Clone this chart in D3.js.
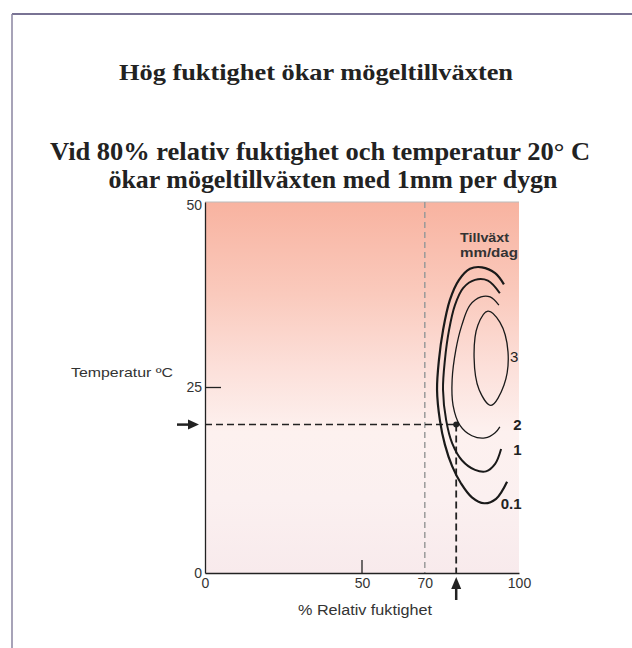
<!DOCTYPE html>
<html><head><meta charset="utf-8">
<script src="https://cdn.jsdelivr.net/npm/d3@7"></script>
<style>
html,body{margin:0;padding:0;background:#fff;}
svg{display:block;}
</style></head>
<body>
<script>
// ---- data ----
const titleText = "Hög fuktighet ökar mögeltillväxten";
const subtitleLines = ["Vid 80% relativ fuktighet och temperatur 20° C", "ökar mögeltillväxten med 1mm per dygn"];
const xTicks = [0, 50, 70, 100];
const yTicks = [0, 25, 50];
const xLabel = "% Relativ fuktighet";
const yLabel = "Temperatur ºC";
const legendTitle = ["Tillväxt", "mm/dag"];
const refRH = 80;      // % relative humidity
const refTemp = 20;    // °C
const thresholdRH = 70;
// growth contours (RH %, temperature °C)
const contour01 = [[95.2,38.9],[92.4,40.4],[88.2,41.2],[84.4,41.0],[80.9,39.5],[78.0,36.8],[75.8,32.7],[74.5,28.7],[73.9,24.7],[74.8,20.6],[76.4,17.3],[78.7,14.4],[81.5,12.1],[85.0,10.2],[88.9,9.4],[92.7,10.0],[96.2,12.3]];
const contour1 = [[93.9,37.7],[90.1,39.4],[86.0,39.5],[82.2,38.4],[79.6,36.1],[77.7,32.7],[76.4,28.7],[75.8,24.7],[76.8,20.6],[78.7,17.5],[81.8,15.2],[86.0,13.9],[89.5,13.7],[92.4,14.7],[94.3,16.7]];
const contour2 = [[93.6,36.1],[90.8,37.2],[87.9,37.2],[84.4,36.1],[81.8,33.4],[79.9,30.1],[78.7,26.0],[79.0,22.6],[81.2,19.9],[85.0,18.5],[89.2,18.2],[92.4,18.9],[93.9,19.7]];
const contour3 = [[90.1,35.3],[93.9,33.8],[96.5,29.8],[95.2,25.3],[91.1,22.6],[87.3,24.7],[85.7,29.0],[86.9,33.4]];
const contourLabels = ["0.1", "1", "2", "3"];
const contourLabelPos = [[97.5,9.4],[99.5,16.6],[99.5,20.0],[98.5,29.2]];

// ---- drawing ----
const W = 632, H = 648;
const svg = d3.select("body").append("svg").attr("width", W).attr("height", H);

// page frame
svg.append("line").attr("x1", 12).attr("y1", 14).attr("x2", 632).attr("y2", 14)
  .attr("stroke", "#4d4470").attr("stroke-width", 1.5);
svg.append("line").attr("x1", 12).attr("y1", 14).attr("x2", 12).attr("y2", 648)
  .attr("stroke", "#8a84a0").attr("stroke-width", 1.5);

// titles
const serif = "'Liberation Serif','Times New Roman',serif";
svg.append("text").attr("x", 316).attr("y", 80).attr("text-anchor", "middle")
  .attr("font-family", serif).attr("font-weight", "bold").attr("font-size", 24)
  .attr("fill", "#222").attr("textLength", 394).attr("lengthAdjust", "spacingAndGlyphs")
  .text(titleText);
const subX = [320, 333], subY = [160, 188], subLen = [540, 449];
subtitleLines.forEach((t, i) => {
  svg.append("text").attr("x", subX[i]).attr("y", subY[i]).attr("text-anchor", "middle")
    .attr("font-family", serif).attr("font-weight", "bold").attr("font-size", 25)
    .attr("fill", "#222").attr("textLength", subLen[i]).attr("lengthAdjust", "spacingAndGlyphs")
    .text(t);
});

const x = d3.scaleLinear().domain([0, 100]).range([205, 519]);
const y = d3.scaleLinear().domain([0, 50]).range([573, 202]);

// background gradient
const defs = svg.append("defs");
const grad = defs.append("linearGradient").attr("id", "bg").attr("x1", 0).attr("y1", 0).attr("x2", 0).attr("y2", 1);
[[0, "#f8b3a0"], [0.25, "#facabd"], [0.45, "#fce0da"], [0.62, "#fdf1ef"], [0.8, "#fbf0f0"], [1, "#f8eaec"]]
  .forEach(s => grad.append("stop").attr("offset", s[0]).attr("stop-color", s[1]));
svg.append("rect").attr("x", x(0)).attr("y", y(50)).attr("width", x(100) - x(0)).attr("height", y(0) - y(50))
  .attr("fill", "url(#bg)");
// faint top border
svg.append("line").attr("x1", x(0)).attr("x2", x(100)).attr("y1", y(50)).attr("y2", y(50))
  .attr("stroke", "#bbb").attr("stroke-width", 1);

// threshold dashed line at 70%
svg.append("line").attr("x1", x(thresholdRH)).attr("x2", x(thresholdRH)).attr("y1", y(50)).attr("y2", y(0))
  .attr("stroke", "#9a9a9a").attr("stroke-width", 1.5).attr("stroke-dasharray", "6,4");

// reference dashed lines
svg.append("line").attr("x1", x(0)).attr("x2", x(refRH)).attr("y1", y(refTemp)).attr("y2", y(refTemp))
  .attr("stroke", "#222").attr("stroke-width", 1.5).attr("stroke-dasharray", "7,4");
svg.append("line").attr("x1", x(refRH)).attr("x2", x(refRH)).attr("y1", y(refTemp)).attr("y2", y(0))
  .attr("stroke", "#222").attr("stroke-width", 1.8).attr("stroke-dasharray", "7,4");
svg.append("circle").attr("cx", x(refRH)).attr("cy", y(refTemp)).attr("r", 3).attr("fill", "#222");

// contours
const line = d3.line().x(d => x(d[0])).y(d => y(d[1])).curve(d3.curveCatmullRom.alpha(0.5));
const lineClosed = d3.line().x(d => x(d[0])).y(d => y(d[1])).curve(d3.curveCatmullRomClosed.alpha(0.5));
const contours = [contour01, contour1, contour2];
const widths = [2.2, 2.0, 1.3];
contours.forEach((c, i) => {
  svg.append("path").attr("d", line(c)).attr("fill", "none").attr("stroke", "#1a1a1a").attr("stroke-width", widths[i]);
});
svg.append("path").attr("d", lineClosed(contour3)).attr("fill", "none").attr("stroke", "#1a1a1a").attr("stroke-width", 1.3);

const sans = "Arial,'Liberation Sans',sans-serif";
contourLabels.forEach((t, i) => {
  svg.append("text").attr("x", x(contourLabelPos[i][0])).attr("y", y(contourLabelPos[i][1]))
    .attr("text-anchor", "middle").attr("dominant-baseline", "central")
    .attr("font-family", sans).attr("font-size", 15).attr("font-weight", i === 3 ? "normal" : "bold")
    .attr("fill", "#222").text(t);
});
const legLen = [49, 58];
legendTitle.forEach((t, i) => {
  svg.append("text").attr("x", 460).attr("y", 242 + i * 15)
    .attr("font-family", sans).attr("font-size", 13).attr("font-weight", "bold")
    .attr("fill", "#333").attr("textLength", legLen[i]).attr("lengthAdjust", "spacingAndGlyphs").text(t);
});

// axes
const xAxis = svg.append("g").attr("transform", `translate(0,${y(0)})`)
  .call(d3.axisBottom(x).tickValues(xTicks).tickSize(0).tickPadding(5).tickFormat(d3.format("d")));
const yAxis = svg.append("g").attr("transform", `translate(${x(0)},0)`)
  .call(d3.axisLeft(y).tickValues(yTicks).tickSize(0).tickPadding(3).tickFormat(d3.format("d")));
[xAxis, yAxis].forEach(g => {
  g.select(".domain").attr("stroke", "#222").attr("stroke-width", 1.3);
  g.selectAll("text").attr("font-family", sans).attr("font-size", 14).attr("fill", "#333");
});
// nudge the top y label slightly down, clear of the subtitle
yAxis.selectAll(".tick").filter(d => d === 50).select("text").attr("dy", "0.55em");
// inward tick marks
svg.append("line").attr("x1", x(50)).attr("x2", x(50)).attr("y1", y(0)).attr("y2", y(0) - 13)
  .attr("stroke", "#222").attr("stroke-width", 1.3);
svg.append("line").attr("x1", x(0)).attr("x2", x(0) + 16).attr("y1", y(25)).attr("y2", y(25))
  .attr("stroke", "#222").attr("stroke-width", 1.3);

// axis titles
svg.append("text").attr("x", 71).attr("y", 377).attr("font-family", sans).attr("font-size", 13)
  .attr("fill", "#333").attr("textLength", 102).attr("lengthAdjust", "spacingAndGlyphs").text(yLabel);
svg.append("text").attr("x", 298).attr("y", 615).attr("font-family", sans)
  .attr("font-size", 14).attr("fill", "#333").attr("textLength", 134).attr("lengthAdjust", "spacingAndGlyphs").text(xLabel);

// arrows
svg.append("line").attr("x1", 177).attr("x2", 190).attr("y1", y(refTemp)).attr("y2", y(refTemp))
  .attr("stroke", "#222").attr("stroke-width", 2.5);
svg.append("path").attr("d", `M188,${y(refTemp) - 5} L199,${y(refTemp)} L188,${y(refTemp) + 5} Z`).attr("fill", "#222");
svg.append("line").attr("x1", x(refRH)).attr("x2", x(refRH)).attr("y1", 588).attr("y2", 600)
  .attr("stroke", "#222").attr("stroke-width", 2.5);
svg.append("path").attr("d", `M${x(refRH) - 5},589 L${x(refRH)},577 L${x(refRH) + 5},589 Z`).attr("fill", "#222");
</script>
</body></html>
